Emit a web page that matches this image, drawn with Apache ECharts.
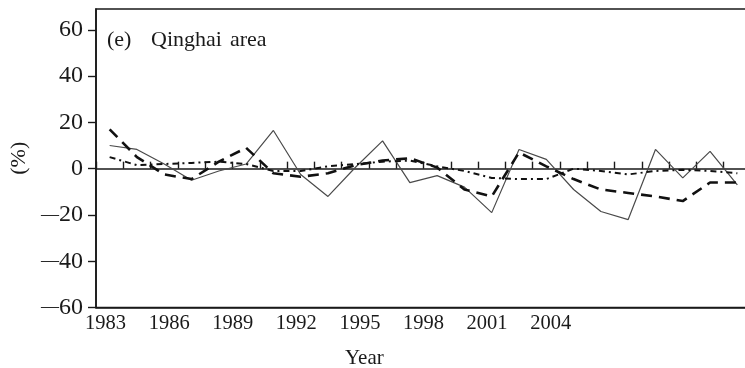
<!DOCTYPE html>
<html>
<head>
<meta charset="utf-8">
<script src="https://cdn.jsdelivr.net/npm/echarts@6/dist/echarts.min.js"></script>
<style>
  html, body { margin: 0; padding: 0; background: #fff; }
  #chart { width: 745px; height: 368px; }
</style>
</head>
<body>
<div id="chart"></div>
<script>
// Years plotted along the category axis
const years = ['1983','1984','1985','1986','1987','1988','1989','1990','1991','1992','1993','1994',
               '1995','1996','1997','1998','1999','2000','2001','2002','2003','2004','2005','2006'];

// Anomaly series (%)
const thinSolid = [10, 8.3, 2, -5, -1, 2, 16.5, -2.5, -12, 0.5, 12, -6,
                   -3, -8, -19, 8.3, 4, -9, -18.5, -22, 8.3, -4, 7.5, -7];
const thickDash = [17, 5, -2.5, -4.5, 3, 9, -2, -3.5, -2, 1.5, 3.5, 4.5,
                   0.5, -9, -12, 7, 1, -4.5, -9, -10.5, -12, -14, -6, -6];
const dashDot   = [5, 1.5, 2, 2.5, 3, 2, -1, -1, 1, 2, 3, 3.5,
                   1, -1, -4, -4.5, -4.5, 0, -1, -2.5, -1, -0.5, -1, -2];

// Bottom axis tick labels
const yearLabels = [1983, 1986, 1989, 1992, 1995, 1998, 2001, 2004];
// Left axis tick labels
const pctTicks = [-60, -40, -20, 0, 20, 40, 60];

const FONT = 'Liberation Serif';
const INK = '#1a1a1a';
const headStyle = { fontFamily: FONT, fontSize: 22, fontWeight: 'normal', color: INK };

const chart = echarts.init(document.getElementById('chart'), null, { renderer: 'canvas' });

chart.setOption({
  animation: false,
  backgroundColor: '#fff',
  grid: {
    left: 96, top: 9, width: 655, bottom: 60.5,
    outerBoundsMode: 'none',
    containLabel: false,
    show: true, borderColor: INK, borderWidth: 1.6, backgroundColor: 'transparent'
  },
  title: [
    { text: '(e)', left: 102, top: 24, textStyle: headStyle },
    { text: 'Qinghai', left: 146, top: 24, textStyle: headStyle },
    { text: 'area', left: 225, top: 24, textStyle: headStyle },
    {
      text: 'Year',
      left: 340, top: 343,
      textStyle: { fontFamily: FONT, fontSize: 21, fontWeight: 'normal', color: INK }
    }
  ],
  xAxis: [
    {
      // zero line with yearly ticks between categories
      type: 'category',
      data: years,
      boundaryGap: true,
      position: 'bottom',
      axisLine: { show: true, onZero: true, lineStyle: { color: INK, width: 1.6 } },
      axisTick: { show: true, inside: true, interval: 0, length: 7,
                  lineStyle: { color: INK, width: 1.4 } },
      axisLabel: { show: false },
      splitLine: { show: false }
    },
    {
      // bottom frame with year labels
      type: 'value',
      min: 1982.55,
      max: 2013.45,
      position: 'bottom',
      axisLine: { show: true, onZero: false, lineStyle: { color: INK, width: 1.6 } },
      axisTick: { show: false },
      axisLabel: {
        customValues: yearLabels,
        fontFamily: FONT, fontSize: 20.5, color: INK, margin: 6,
        formatter: v => String(v)
      },
      splitLine: { show: false }
    }
  ],
  yAxis: {
    type: 'value',
    min: -60,
    max: 69,
    name: '(%)',
    nameLocation: 'middle',
    nameRotate: 90,
    nameGap: 64,
    nameTextStyle: { fontFamily: FONT, fontSize: 22, color: INK },
    axisLine: { show: true, onZero: false, lineStyle: { color: INK, width: 1.6 } },
    axisTick: { show: true, inside: false, length: 8, customValues: pctTicks,
                lineStyle: { color: INK, width: 1.4 } },
    axisLabel: {
      customValues: pctTicks,
      fontFamily: FONT, fontSize: 24, color: INK, margin: 13,
      formatter: v => (v < 0 ? '{d|\u2014}' + Math.abs(v) : String(v)),
      rich: {
        d: { fontFamily: FONT, fontSize: 18, color: INK }
      }
    },
    splitLine: { show: false }
  },
  series: [
    {
      name: 'thin',
      type: 'line',
      xAxisIndex: 0,
      data: thinSolid,
      symbol: 'none',
      lineStyle: { color: '#4a4a4a', width: 1.2, type: 'solid' },
      z: 3
    },
    {
      name: 'dash',
      type: 'line',
      xAxisIndex: 0,
      data: thickDash,
      symbol: 'none',
      lineStyle: { color: '#111', width: 2.6, type: [11, 7] },
      z: 4
    },
    {
      name: 'dashdot',
      type: 'line',
      xAxisIndex: 0,
      data: dashDot,
      symbol: 'none',
      lineStyle: { color: '#111', width: 2, type: [6, 4, 2, 4] },
      z: 4
    }
  ]
});
</script>
</body>
</html>
